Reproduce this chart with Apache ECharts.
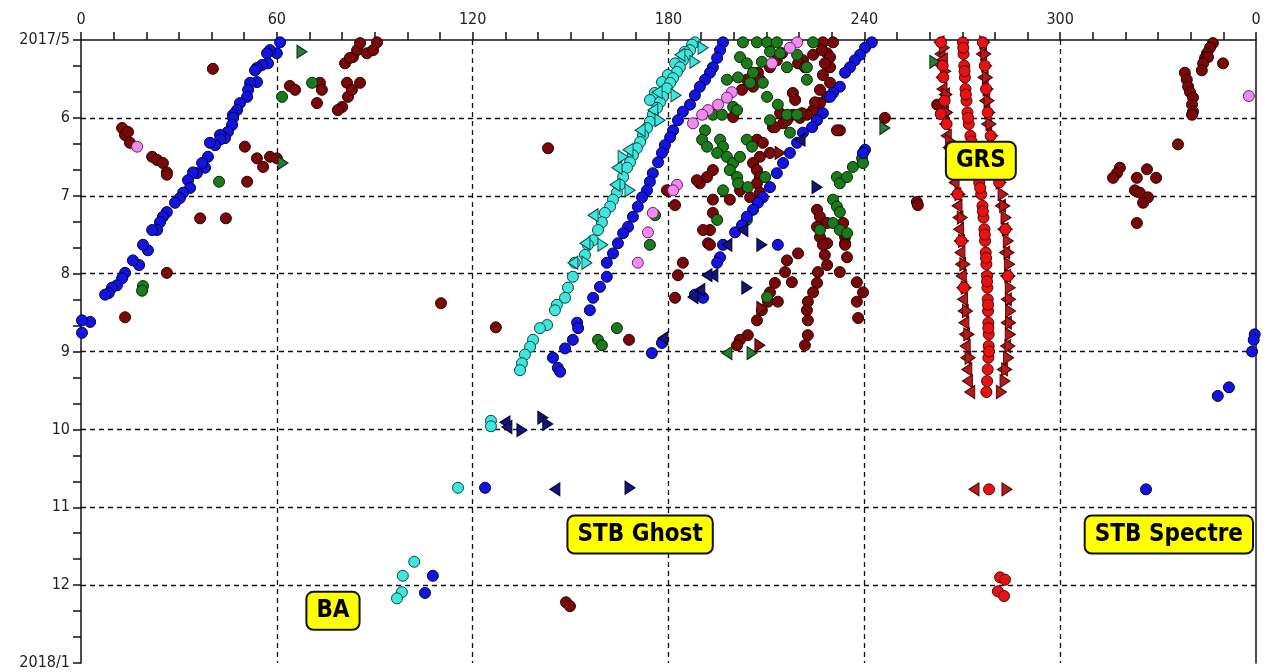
<!DOCTYPE html>
<html>
<head>
<meta charset="utf-8">
<script src="https://cdn.jsdelivr.net/npm/echarts@6/dist/echarts.min.js"></script>
<style>
html, body { margin: 0; padding: 0; background: #fff; }
#main { width: 1274px; height: 672px; }
</style>
</head>
<body>
<div id="main"></div>
<script>
// tick labels
var xLabels = ['0', '60', '120', '180', '240', '300', '0'];
var yLabels = ['2017/5', '6', '7', '8', '9', '10', '11', '12', '2018/1'];

// [longitude, months since 2017/5]
var blueDots = [
  [61.0,0.03],[60.0,0.17],[57.9,0.13],[57.0,0.17],[57.3,0.30],[55.5,0.32],[53.9,0.36],[53.3,0.39],[53.9,0.54],[51.8,0.55],
  [51.2,0.64],[50.9,0.73],[48.7,0.81],[47.8,0.90],[46.6,0.96],[46.6,1.00],[46.3,1.09],[45.0,1.18],[44.1,1.26],[42.6,1.22],
  [42.6,1.28],[41.1,1.35],[39.5,1.32],[38.9,1.50],[38.0,1.64],[37.1,1.58],[35.5,1.71],[34.3,1.70],[32.8,1.80],[33.4,1.90],
  [31.3,1.96],[30.3,2.03],[28.8,2.09],[26.3,2.21],[25.1,2.27],[24.2,2.34],[23.3,2.44],[21.8,2.44],[20.5,2.70],[19.0,2.63],
  [17.8,2.89],[15.9,2.83],[13.5,2.99],[12.6,3.06],[11.0,3.15],[9.5,3.18],[8.5,3.25],[7.4,3.27],[2.8,3.62],[0.3,3.60],[0.3,3.76],
  [359.6,3.78],[359.3,3.85],[358.8,4.0],[351.7,4.46],[348.3,4.57],[326.3,5.77],
  [196.7,0.03],[195.8,0.13],[194.9,0.23],[193.6,0.35],[192.7,0.42],[191.2,0.51],[189.6,0.60],[188.1,0.71],[186.6,0.83],[184.4,0.92],
  [182.9,1.03],[181.4,1.16],[180.5,1.25],[178.9,1.35],[178.0,1.45],[176.8,1.57],[175.2,1.71],[174.3,1.82],[173.4,1.93],[171.9,2.02],
  [170.6,2.14],[169.1,2.27],[167.6,2.40],[166.1,2.48],[164.5,2.61],[163.0,2.74],[161.1,2.86],[161.1,3.04],[159.0,3.17],[156.9,3.31],
  [155.9,3.47],[152.0,3.63],[152.3,3.70],[150.7,3.85],[148.3,3.96],[144.6,4.08],[146.1,4.21],[146.8,4.26],[174.9,4.02],[178.0,3.89],
  [242.3,0.03],[240.2,0.10],[238.7,0.19],[237.1,0.26],[235.6,0.35],[234.1,0.42],[232.5,0.60],[230.4,0.68],[229.5,0.73],[227.3,0.94],
  [225.5,1.03],[224.0,1.12],[221.2,1.19],[219.4,1.32],[217.2,1.45],[215.1,1.58],[213.2,1.71],[211.1,1.89],[208.9,2.02],[207.4,2.09],
  [205.9,2.18],[204.0,2.27],[202.5,2.38],[200.4,2.47],[196.7,2.63],[195.8,2.79],[194.9,2.86],[190.6,3.31],[188.1,3.27],[213.5,2.63],
  [240.2,1.41],[239.6,1.45],
  [123.8,5.75],[107.8,6.88],[105.4,7.10]
];

var cyanDots = [
  [188.1,0.03],[187.2,0.06],[186.6,0.13],[185.0,0.15],[185.7,0.19],[184.4,0.26],[182.0,0.30],[183.5,0.35],[182.6,0.41],[179.8,0.45],
  [181.4,0.49],[178.0,0.54],[180.5,0.55],[179.5,0.62],[175.8,0.68],[178.3,0.73],[174.3,0.77],[177.4,0.80],[176.5,0.87],[175.2,0.96],
  [174.3,1.05],[173.4,1.13],[172.2,1.22],[171.3,1.31],[170.3,1.39],[169.1,1.48],[168.2,1.57],[167.3,1.64],[166.1,1.76],[165.1,1.86],
  [164.2,1.96],[163.0,2.05],[162.1,2.14],[160.5,2.22],[159.6,2.34],[158.4,2.44],[156.9,2.57],[155.3,2.63],[154.4,2.76],[151.3,2.86],
  [150.7,3.04],[149.2,3.18],[148.3,3.31],[145.8,3.40],[145.2,3.47],[142.8,3.66],[140.6,3.70],[138.5,3.85],[137.6,3.94],[136.0,4.04],
  [135.1,4.15],[134.5,4.24],
  [125.6,4.89],[125.6,4.96],[115.5,5.75],
  [102.1,6.70],[98.6,6.88],[98.3,7.09],[96.8,7.17]
];
var cyanLeft = [
  [183.5,0.19],[176.5,0.67],[175.2,0.90],[171.3,1.16],[167.6,1.41],[164.2,1.64],[163.6,1.86],[156.9,2.25],[154.4,2.61],[150.7,2.86]
];
var cyanRight = [
  [190.6,0.10],[188.1,0.28],[182.3,0.71],[177.4,1.03],[166.1,1.50],[168.2,1.93],[159.9,2.63],[155.0,2.86]
];

var maroonDots = [
  [40.4,0.37],[64.0,0.59],[65.6,0.64],[73.2,0.55],[73.8,0.64],[72.3,0.81],[81.5,0.55],[85.5,0.55],[81.8,0.73],[80.0,0.86],
  [80.9,0.30],[83.3,0.22],[84.6,0.13],[85.5,0.04],[87.6,0.17],[89.5,0.13],[90.7,0.03],[82.4,0.23],[78.7,0.90],[83.0,0.64],
  [12.6,1.13],[13.5,1.22],[14.4,1.18],[15.0,1.32],[21.8,1.50],[23.3,1.54],[25.1,1.58],[26.3,1.70],[26.3,1.73],[50.2,1.37],
  [53.9,1.52],[55.8,1.63],[57.9,1.50],[60.0,1.52],[50.9,1.82],[36.5,2.29],[44.4,2.29],[26.3,2.99],[13.5,3.56],
  [143.1,1.39],[110.3,3.38],[127.1,3.69],[167.9,3.85],[148.6,7.22],[149.8,7.27],
  [227.3,0.03],[230.4,0.03],[228.6,0.17],[229.5,0.35],[229.5,0.55],[228.6,0.73],[226.4,0.81],[224.3,0.90],[222.4,0.96],[220.3,1.00],
  [218.1,0.68],[218.8,0.77],[214.2,0.94],[215.1,1.07],[212.0,1.12],[207.4,0.42],[205.9,0.60],[202.5,0.64],[208.0,0.51],[221.2,0.26],
  [224.3,0.19],[232.5,1.16],[227.0,0.13],[229.5,0.22],[227.9,0.30],[227.3,0.45],[226.4,0.64],[224.9,0.80],[220.9,0.94],[218.1,0.96],
  [216.3,1.03],[212.6,1.12],[219.7,0.30],[221.8,0.35],[214.8,0.17],[213.2,0.26],[211.1,0.35],[204.0,0.51],[199.8,0.99],[207.1,1.28],
  [208.9,1.32],[211.1,1.45],[208.0,1.50],[205.9,1.58],[207.1,1.67],[208.0,1.76],[207.1,1.84],[201.9,1.93],[193.6,1.67],[191.8,1.76],
  [189.6,1.84],[205.0,2.02],[208.0,1.96],[193.6,2.05],[198.8,2.05],[193.6,2.22],[192.7,2.44],[190.6,2.44],[192.1,2.61],[225.5,2.18],
  [226.4,2.27],[228.6,2.35],[225.5,2.40],[226.4,2.53],[228.6,2.61],[233.5,2.35],[234.1,2.53],[234.1,2.61],[231.6,1.16],[246.3,1.00],
  [179.5,1.93],[182.0,2.12],[188.7,1.80],[192.7,2.63],[184.4,2.86],[182.9,3.02],[182.0,3.31],[219.7,2.74],[216.3,2.83],[215.7,2.98],
  [217.8,3.11],[212.6,3.12],[211.1,3.24],[210.5,3.36],[213.5,3.36],[208.6,3.47],[207.1,3.60],[204.3,3.79],[201.9,3.85],[201.0,3.92],
  [227.3,2.63],[227.9,2.76],[228.6,2.89],[225.8,2.98],[225.5,3.12],[224.3,3.24],[222.7,3.36],[222.4,3.47],[222.7,3.60],[222.7,3.79],
  [221.8,3.92],[234.1,2.63],[234.7,2.79],[232.5,2.98],[237.7,3.11],[239.6,3.24],[237.7,3.36],[238.1,3.57],[256.1,2.08],[256.4,2.12],
  [262.3,0.83],
  [346.8,0.04],[345.9,0.10],[345.0,0.17],[344.4,0.23],[345.3,0.22],[343.8,0.30],[343.4,0.39],[349.9,0.30],[338.2,0.42],[338.8,0.51],
  [339.2,0.60],[339.8,0.67],[340.7,0.74],[340.4,0.83],[340.7,0.92],[340.4,0.96],[336.1,1.34],[326.6,1.66],[318.3,1.64],[317.4,1.71],
  [316.2,1.77],[323.5,1.77],[329.4,1.77],[322.9,1.93],[324.4,1.96],[326.9,2.02],[325.4,2.09],[323.5,2.35]
];
var maroonRight = [[214.2,1.45],[208.0,3.92],[208.6,3.44]];

var greenDots = [
  [202.8,0.03],[207.1,0.03],[210.2,0.03],[213.2,0.03],[224.3,0.03],[201.9,0.22],[204.0,0.30],[205.9,0.42],[208.6,0.28],[211.1,0.15],
  [214.2,0.17],[216.3,0.35],[219.4,0.19],[222.4,0.35],[222.4,0.51],[197.9,0.51],[201.3,0.48],[205.0,0.55],[208.9,0.55],[210.2,0.73],
  [213.5,0.83],[216.3,0.96],[219.4,0.96],[199.8,0.86],[201.0,0.90],[193.6,0.96],[196.4,0.96],[191.2,1.16],[190.3,1.28],[191.8,1.37],
  [195.8,1.28],[196.7,1.37],[194.9,1.45],[197.9,1.50],[199.8,1.58],[198.8,1.67],[201.0,1.76],[204.0,1.28],[205.6,1.37],[201.9,1.50],
  [201.3,1.84],[204.3,1.89],[196.7,1.93],[194.9,2.31],[204.0,2.31],[209.6,1.76],[217.2,1.19],[211.1,1.03],
  [231.6,1.76],[232.5,1.84],[234.7,1.76],[236.5,1.63],[239.3,1.52],[239.6,1.58],[230.4,2.05],[231.6,2.14],[232.5,2.21],[230.4,2.35],
  [232.5,2.44],[234.7,2.48],[226.4,2.44],
  [174.3,2.63],[175.9,2.25],[164.2,3.70],[158.4,3.85],[159.6,3.92],[210.2,3.30],
  [61.6,0.73],[70.8,0.55],[42.3,1.82],[19.0,3.16],[18.7,3.22]
];
var greenLeft = [[197.9,4.02]];
var greenRight = [[205.6,4.02],[67.7,0.15],[61.9,1.58],[261.6,0.28],[246.3,1.13]];

var pinkDots = [
  [219.4,0.03],[217.2,0.10],[211.7,0.30],[199.4,0.67],[197.9,0.74],[195.2,0.83],[192.1,0.90],[190.3,0.96],[187.5,1.07],[182.6,1.86],
  [181.4,1.93],[175.2,2.22],[173.7,2.47],[170.6,2.86],[17.2,1.37],[357.8,0.72]
];

var navyLeft = [
  [197.9,2.63],[193.6,3.02],[191.8,3.02],[189.6,3.21],[187.5,3.30],[178.3,3.83],[220.3,1.28],[202.8,2.44],
  [129.9,4.91],[130.5,4.97],[145.2,5.77]
];
var navyRight = [
  [208.6,2.63],[204.0,3.18],[225.5,1.89],[135.1,5.01],[141.5,4.85],[143.0,4.93],[168.2,5.75]
];

// Great Red Spot: circles, then edge triangles
var grsDots = [
  [270.2,0.03],[270.4,0.18],[270.6,0.33],[270.8,0.48],[271.0,0.63],[271.3,0.78],[271.6,0.93],[272.0,1.08],[272.5,1.23],[273.1,1.38],
  [273.8,1.53],[274.5,1.68],[275.2,1.83],[275.8,1.98],[276.2,2.13],[276.5,2.28],[276.8,2.43],[277.0,2.58],[277.2,2.73],[277.4,2.88],
  [277.6,3.03],[277.7,3.18],[277.8,3.33],[277.9,3.48],[278.0,3.63],[278.1,3.78],[278.1,3.93],[278.0,4.08],[277.8,4.23],[277.6,4.38],
  [277.4,4.52],
  [270.3,0.10],[270.7,0.40],[271.1,0.70],[271.8,1.00],[272.8,1.30],[275.5,1.90],[276.3,2.20],[276.9,2.50],[277.3,2.80],[277.6,3.10],
  [277.9,3.40],[278.0,3.70],[278.2,4.00],
  [263.5,0.03],[264.0,0.33],[264.2,0.48],[264.6,0.78],[263.4,0.95],[265.2,1.08],[266.3,1.38],[268.6,1.98],[269.7,2.58],[270.5,3.18],
  [276.3,0.03],[276.9,0.33],[277.3,0.63],[277.8,0.93],[278.7,1.23],[281.3,1.83],[283.2,2.43],[284.0,3.03],
  [278.2,5.77],[281.6,6.90],[283.1,6.93],[280.9,7.08],[282.8,7.14]
];
var grsLeft = [
  [262.9,0.03],[263.2,0.18],[263.4,0.33],[263.6,0.48],[263.8,0.63],[264.0,0.78],[264.2,0.93],[264.6,1.08],[265.1,1.23],[265.7,1.38],
  [266.4,1.53],[267.0,1.68],[267.5,1.83],[268.0,1.98],[268.4,2.13],[268.7,2.28],[268.9,2.43],[269.1,2.58],[269.3,2.73],[269.5,2.88],
  [269.7,3.03],[269.9,3.18],[270.1,3.33],[270.3,3.48],[270.5,3.63],[270.7,3.78],[270.9,3.93],[271.1,4.08],[271.4,4.23],[271.6,4.38],
  [272.3,4.52],[273.6,5.77],
  [275.9,0.18],[276.4,0.48],[276.9,0.78],[277.5,1.08],[280.0,1.68],[281.7,2.13],[282.5,2.43],[283.0,2.73],[283.3,3.03],[283.5,3.33],
  [283.5,3.63],[283.3,3.93],[282.3,4.23],
  [263.9,0.25],[264.5,0.70]
];
var grsRight = [
  [276.9,0.03],[277.2,0.18],[277.5,0.33],[277.7,0.48],[277.9,0.63],[278.2,0.78],[278.4,0.93],[278.8,1.08],[279.3,1.23],[279.9,1.38],
  [280.6,1.53],[281.3,1.68],[281.9,1.83],[282.5,1.98],[283.0,2.13],[283.4,2.28],[283.8,2.43],[284.1,2.58],[284.3,2.73],[284.5,2.88],
  [284.6,3.03],[284.7,3.18],[284.8,3.33],[284.8,3.48],[284.8,3.63],[284.7,3.78],[284.6,3.93],[284.2,4.08],[283.6,4.23],[283.1,4.38],
  [282.0,4.52],[283.7,5.77],
  [264.5,0.10],[264.9,0.40],[265.3,0.70],[265.5,0.93],[266.4,1.30],[269.3,1.98],[270.0,2.28],[270.4,2.58],[270.8,2.88],[271.2,3.18],
  [271.6,3.48],[272.0,3.78],[272.4,4.08]
];

// feature names
var noteNames = ['GRS', 'STB Ghost', 'STB Spectre', 'BA'];
var noteLon = [275.7, 171.3, 333.3, 77.2];
var noteMonth = [1.55, 6.35, 6.35, 7.33];

var FONT = "'Liberation Sans Narrow', 'DejaVu Sans Condensed', 'Liberation Sans', sans-serif";

function dots(data, fill, edge) {
  return {
    type: 'scatter', data: data, symbol: 'circle', symbolSize: 11,
    itemStyle: { color: fill, borderColor: edge, borderWidth: 1, opacity: 1 },
    silent: true
  };
}
function tris(data, fill, edge, rot) {
  return {
    type: 'scatter', data: data, symbol: 'triangle', symbolSize: [13, 10], symbolRotate: rot,
    itemStyle: { color: fill, borderColor: edge, borderWidth: 1, opacity: 1 },
    silent: true
  };
}

var chart = echarts.init(document.getElementById('main'));

var notes = noteNames.map(function (n, i) {
  return { name: n, value: [noteLon[i], noteMonth[i]] };
});

var option = {
  animation: false,
  backgroundColor: '#fff',
  grid: { left: 81, right: 18, top: 40, bottom: 9 },
  xAxis: {
    type: 'value', position: 'top', min: 0, max: 360, interval: 60,
    axisLine: { show: true, lineStyle: { color: '#111', width: 1.5 } },
    axisTick: { show: true, length: 8, lineStyle: { color: '#111', width: 1.5 } },
    minorTick: { show: true, splitNumber: 6, length: 8, lineStyle: { color: '#111', width: 1.5 } },
    axisLabel: {
      margin: 12, fontSize: 16, color: '#222', fontFamily: FONT,
      formatter: function (v) { return xLabels[Math.round(v / 60)]; }
    },
    splitLine: { show: true, showMinLine: false, showMaxLine: false, lineStyle: { color: '#111', type: [5, 4], width: 1.3 } }
  },
  yAxis: [{
    type: 'value', inverse: true, min: 0, max: 8, interval: 1,
    axisLine: { show: true, lineStyle: { color: '#111', width: 1.5 } },
    axisTick: { show: true, length: 8, lineStyle: { color: '#111', width: 1.5 } },
    minorTick: { show: true, splitNumber: 3, length: 8, lineStyle: { color: '#111', width: 1.5 } },
    axisLabel: {
      margin: 11, fontSize: 16, color: '#222', fontFamily: FONT,
      formatter: function (v) { return yLabels[Math.round(v)]; }
    },
    splitLine: { show: true, showMinLine: false, showMaxLine: false, lineStyle: { color: '#111', type: [5, 4], width: 1.3 } }
  }, {
    type: 'value', inverse: true, min: 0, max: 8, position: 'right',
    axisLine: { show: true, lineStyle: { color: '#111', width: 1.5 } },
    axisTick: { show: false }, axisLabel: { show: false }, splitLine: { show: false }
  }],
  series: [
    dots(maroonDots, '#7a0808', '#2a0000'),
    dots(greenDots, '#1c7a1c', '#002a00'),
    dots(pinkDots, '#f08cf0', '#6a206a'),
    dots(cyanDots, '#40e6dc', '#064848'),
    tris(cyanLeft, '#40e6dc', '#064848', 90),
    tris(cyanRight, '#40e6dc', '#064848', -90),
    dots(blueDots, '#1414e0', '#00004a'),
    tris(navyLeft, '#14147a', '#00002a', 90),
    tris(navyRight, '#14147a', '#00002a', -90),
    tris(greenLeft, '#2a7a3a', '#002a00', 90),
    tris(greenRight, '#2a7a3a', '#002a00', -90),
    tris(maroonRight, '#8a1010', '#2a0000', -90),
    tris(grsLeft, '#b41c1c', '#4a0000', 90),
    tris(grsRight, '#b41c1c', '#4a0000', -90),
    dots(grsDots, '#e41414', '#5a0000'),
    {
      type: 'scatter', data: notes, symbolSize: 0, silent: true, z: 10,
      itemStyle: { opacity: 1 },
      label: {
        show: true, position: 'inside', formatter: '{b}',
        fontFamily: FONT, fontWeight: 'bold', fontSize: 24, color: '#000',
        backgroundColor: '#ffff00', borderColor: '#111', borderWidth: 2, borderRadius: 6,
        padding: [7, 9, 5, 9]
      }
    }
  ]
};

chart.setOption(option);
</script>
</body>
</html>
